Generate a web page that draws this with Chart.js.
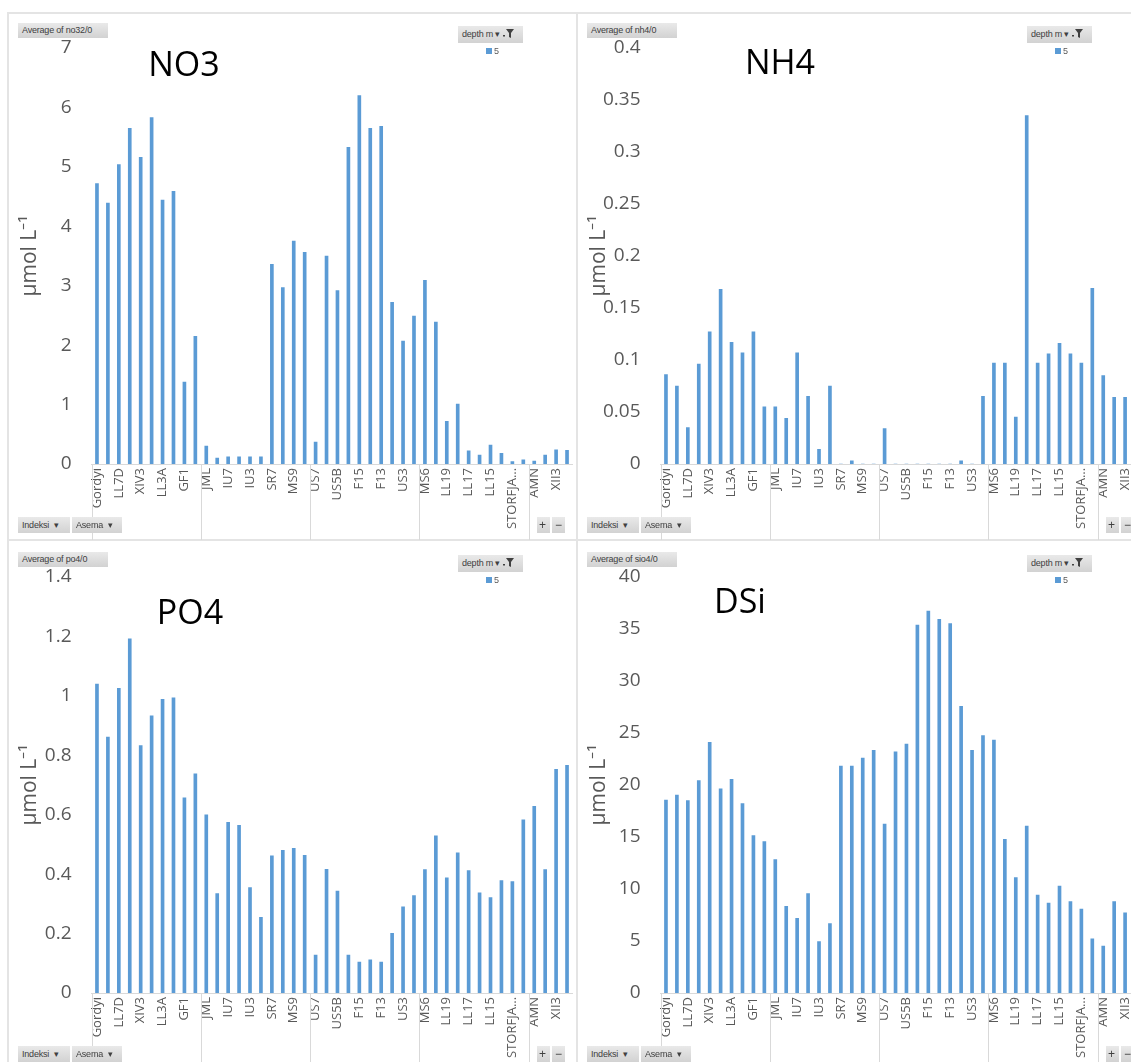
<!DOCTYPE html>
<html>
<head>
<meta charset="utf-8">
<script src="https://cdn.jsdelivr.net/npm/chart.js@4.4.1/dist/chart.umd.min.js"></script>
<style>
  body { margin: 0; width: 1131px; height: 1062px; overflow: hidden; position: relative; background: #fff; font-family: "Open Sans", sans-serif; }
  .line { position: absolute; background: #e4e4e4; }
  .panel { position: absolute; width: 569px; height: 527px; overflow: hidden; }
  .panel canvas { position: absolute; left: 0; top: 0; }
  .btn { position: absolute; height: 15px; line-height: 15px; font-size: 9px; color: #404040; background: linear-gradient(#e9e9e9, #d2d2d2); box-sizing: border-box; padding: 0 4px; white-space: nowrap; font-family: "Liberation Sans", sans-serif; letter-spacing: -0.2px; }
  .ttl { position: absolute; font-size: 34px; color: #000; transform: translate(-50%, -50%); white-space: nowrap; }
  .leg { position: absolute; font-size: 9px; color: #595959; font-family: "Liberation Sans", sans-serif; }
  .leg i { display: inline-block; width: 6px; height: 6px; background: #5B9BD5; margin-right: 2px; }
</style>
</head>
<body>
<div class="line" style="left:8px;top:12px;width:1123px;height:2px"></div>
<div class="line" style="left:7px;top:12px;width:2px;height:1050px"></div>
<div class="line" style="left:576px;top:12px;width:2px;height:1050px"></div>
<div class="line" style="left:8px;top:539px;width:1123px;height:2px"></div>

<script>
// stations (Asema); only every other name is shown in the original axis
const stations = ['Gordyi', '', 'LL7D', '', 'XIV3', '', 'LL3A', '', 'GF1', '',
  'JML', '', 'IU7', '', 'IU3', '', 'SR7', '', 'MS9', '',
  'US7', '', 'US5B', '', 'F15', '', 'F13', '', 'US3', '',
  'MS6', '', 'LL19', '', 'LL17', '', 'LL15', '', 'STORFJA…', '',
  'AMN', '', 'XII3', ''];
// first station index of each Indeksi group
const groupStarts = [0, 10, 20, 30, 40];

const seriesLabel = '5';

const no3 = [4.72, 4.39, 5.04, 5.65, 5.16, 5.83, 4.44, 4.59, 1.38, 2.15,
  0.30, 0.10, 0.12, 0.12, 0.12, 0.12, 3.36, 2.97, 3.75, 3.56,
  0.37, 3.50, 2.92, 5.33, 6.20, 5.65, 5.68, 2.72, 2.07, 2.49,
  3.09, 2.39, 0.72, 1.01, 0.22, 0.15, 0.32, 0.18, 0.04, 0.07,
  0.05, 0.15, 0.24, 0.23];
const nh4 = [0.086, 0.075, 0.035, 0.096, 0.127, 0.168, 0.117, 0.107, 0.127, 0.055,
  0.055, 0.044, 0.107, 0.065, 0.014, 0.075, 0, 0.003, 0, 0,
  0.034, 0, 0, 0, 0, 0, 0, 0.003, 0, 0.065,
  0.097, 0.097, 0.045, 0.335, 0.097, 0.106, 0.116, 0.106, 0.097, 0.169,
  0.085, 0.064, 0.064, null];
const po4 = [1.040, 0.861, 1.025, 1.192, 0.833, 0.933, 0.988, 0.993, 0.657, 0.738,
  0.600, 0.335, 0.574, 0.564, 0.355, 0.255, 0.462, 0.480, 0.487, 0.463,
  0.128, 0.416, 0.343, 0.128, 0.104, 0.112, 0.104, 0.201, 0.290, 0.328,
  0.415, 0.529, 0.388, 0.472, 0.412, 0.337, 0.321, 0.378, 0.375, 0.583,
  0.628, 0.415, 0.753, 0.766];
const dsi = [18.56, 19.04, 18.49, 20.42, 24.10, 19.62, 20.54, 18.21, 15.13, 14.55,
  12.82, 8.33, 7.18, 9.55, 4.94, 6.67, 21.83, 21.83, 22.6, 23.33,
  16.25, 23.2, 23.94, 35.38, 36.73, 35.93, 35.51, 27.56, 23.33, 24.74,
  24.33, 14.78, 11.09, 16.06, 9.42, 8.65, 10.29, 8.78, 8.08, 5.22,
  4.52, 8.78, 7.72, null];

const panels = [
  { field: 'no32/0', title: 'NO3', data: no3, max: 7, step: 1, left: 8, top: 13, tx: 176, ty: 50 },
  { field: 'nh4/0', title: 'NH4', data: nh4, max: 0.4, step: 0.05, left: 577, top: 13, tx: 203, ty: 48 },
  { field: 'po4/0', title: 'PO4', data: po4, max: 1.4, step: 0.2, left: 8, top: 542, tx: 182, ty: 69 },
  { field: 'sio4/0', title: 'DSi', data: dsi, max: 40, step: 5, left: 577, top: 542, tx: 163, ty: 58 }
];

const funnel = '<svg width="11" height="9" viewBox="0 0 11 9" style="vertical-align:-1px;margin-left:3px"><rect x="0" y="6" width="2" height="1.5" fill="#404040"/><path d="M3 0h8L8 4v5L6 8V4z" fill="#404040"/></svg>';

// vertical separators between the station groups, below the axis
const groupLines = {
  id: 'groupLines',
  afterDraw(chart) {
    const { ctx, chartArea, scales: { x } } = chart;
    const xs = [chartArea.left];
    groupStarts.slice(1).forEach(i => {
      xs.push((x.getPixelForValue(i - 1) + x.getPixelForValue(i)) / 2);
    });
    ctx.save();
    ctx.strokeStyle = '#d9d9d9';
    ctx.lineWidth = 1;
    xs.forEach(px => {
      const p = Math.round(px) + 0.5;
      ctx.beginPath();
      ctx.moveTo(p, chartArea.bottom);
      ctx.lineTo(p, chart.height);
      ctx.stroke();
    });
    ctx.restore();
  }
};

panels.forEach(p => {
  const div = document.createElement('div');
  div.className = 'panel';
  div.style.left = p.left + 'px';
  div.style.top = p.top + 'px';
  div.innerHTML =
    '<canvas width="585" height="527" style="width:585px;height:527px"></canvas>' +
    '<div class="btn" style="left:10px;top:10px;width:90px">Average of ' + p.field + '</div>' +
    '<div class="ttl" style="left:' + p.tx + 'px;top:' + p.ty + 'px">' + p.title + '</div>' +
    '<div class="btn" style="left:450px;top:13px;width:65px;height:17px;line-height:17px">depth m&nbsp;▾' + funnel + '</div>' +
    '<div class="leg" style="left:478px;top:33px"><i></i>' + seriesLabel + '</div>' +
    '<div class="btn" style="left:10px;top:504px;width:52px;height:16px;line-height:16px">Indeksi &nbsp;▾</div>' +
    '<div class="btn" style="left:64px;top:504px;width:50px;height:16px;line-height:16px">Asema &nbsp;▾</div>' +
    '<div class="btn" style="left:529px;top:504px;width:13px;height:16px;line-height:16px;font-size:12px;padding:0 2px">+</div>' +
    '<div class="btn" style="left:544px;top:504px;width:13px;height:16px;line-height:16px;font-size:12px;padding:0 3px">−</div>';
  document.body.appendChild(div);

  const ctx = div.querySelector('canvas').getContext('2d');
  new Chart(ctx, {
    type: 'bar',
    data: {
      labels: stations,
      datasets: [{
        label: seriesLabel,
        data: p.data,
        backgroundColor: '#5B9BD5',
        barThickness: 3
      }]
    },
    options: {
      responsive: false,
      animation: false,
      events: [],
      layout: { padding: { left: 0, right: 20.5, top: 35, bottom: 0 } },
      plugins: {
        legend: { display: false },
        tooltip: { enabled: false }
      },
      scales: {
        x: {
          grid: { display: false, drawTicks: false },
          border: { display: true, color: '#d9d9d9', width: 1 },
          ticks: {
            autoSkip: false,
            minRotation: 90,
            maxRotation: 90,
            padding: 4,
            color: '#595959',
            font: { family: 'Open Sans', size: 13 }
          },
          afterFit: s => { s.height = 76; }
        },
        y: {
          min: 0,
          max: p.max,
          grid: { display: false, drawTicks: false },
          border: { display: false },
          ticks: {
            stepSize: p.step,
            padding: 20,
            color: '#595959',
            font: { family: 'Open Sans', size: 19 },
            callback: v => String(Number(v.toFixed(4)))
          },
          title: {
            display: true,
            text: 'µmol L⁻¹',
            color: '#595959',
            font: { family: 'Open Sans', size: 21 },
            padding: { top: 9, bottom: 0 }
          },
          afterFit: s => { s.width = 83.5; }
        }
      }
    },
    plugins: [groupLines]
  });
});
</script>
</body>
</html>
